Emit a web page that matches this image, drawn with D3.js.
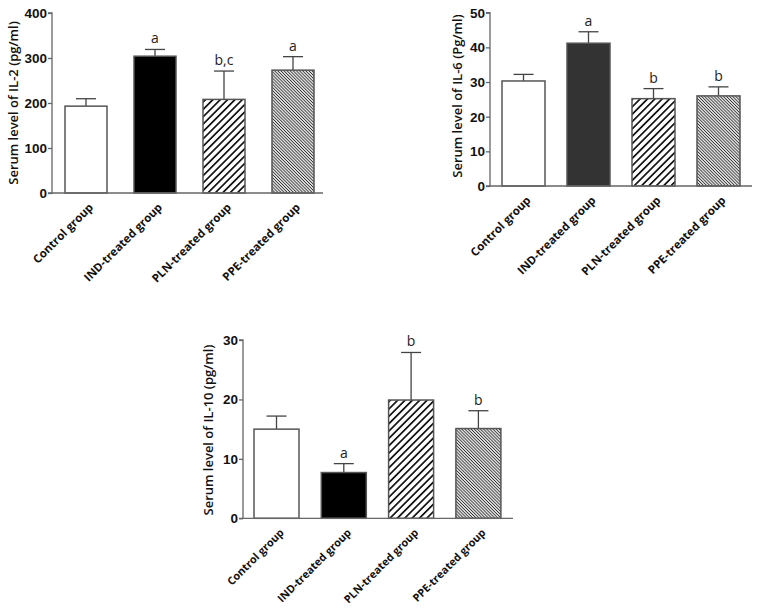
<!DOCTYPE html>
<html>
<head>
<meta charset="utf-8">
<script src="https://cdn.jsdelivr.net/npm/d3@7/dist/d3.min.js"></script>
<style>
  html, body { margin: 0; padding: 0; background: #fff; }
  svg { display: block; }
</style>
</head>
<body>
<svg id="chart" width="758" height="608"></svg>
<script>
// ---------- data ----------
const categories = ["Control group", "IND-treated group", "PLN-treated group", "PPE-treated group"];

const il2Values = [193, 304, 208, 273];
const il2Errors = [16.5, 15, 63, 30];
const il2Letters = ["", "a", "b,c", "a"];
const il2Ticks = [0, 100, 200, 300, 400];

const il6Values = [30.3, 41.2, 25.2, 26.0];
const il6Errors = [1.9, 3.3, 2.9, 2.6];
const il6Letters = ["", "a", "b", "b"];
const il6Ticks = [0, 10, 20, 30, 40, 50];

const il10Values = [15.0, 7.7, 19.9, 15.1];
const il10Errors = [2.2, 1.5, 8.0, 3.0];
const il10Letters = ["", "a", "b", "b"];
const il10Ticks = [0, 10, 20, 30];

// ---------- layout ----------
const svg = d3.select("#chart");
const defs = svg.append("defs");

function stripePattern(id, spacing, angle, width, color) {
  const p = defs.append("pattern")
    .attr("id", id)
    .attr("patternUnits", "userSpaceOnUse")
    .attr("width", spacing).attr("height", spacing)
    .attr("patternTransform", `rotate(${angle})`);
  p.append("rect").attr("width", spacing).attr("height", spacing).attr("fill", "#fff");
  p.append("line").attr("x1", spacing / 2).attr("y1", 0).attr("x2", spacing / 2).attr("y2", spacing)
    .attr("stroke", color).attr("stroke-width", width);
}
stripePattern("plnStripe", 5.2, 45, 1.7, "#111");
stripePattern("ppeStripe", 2.2, -45, 1.0, "#333");

const panels = [
  { title: "Serum level of IL-2 (pg/ml)", values: il2Values, errors: il2Errors, letters: il2Letters,
    ticks: il2Ticks, domain: [0, 400], yRange: [193, 13], axisX: 52, axisEnd: 323,
    bandStart: 65, step: 69, bw: 42, titleX: 13, titleY: 103, indFill: "#000", labelSize: 11.5 },
  { title: "Serum level of IL-6 (Pg/ml)", values: il6Values, errors: il6Errors, letters: il6Letters,
    ticks: il6Ticks, domain: [0, 50], yRange: [186, 12.7], axisX: 490, axisEnd: 752,
    bandStart: 502, step: 65, bw: 43, titleX: 457, titleY: 96, indFill: "#333", labelSize: 11.5 },
  { title: "Serum level of IL-10 (pg/ml)", values: il10Values, errors: il10Errors, letters: il10Letters,
    ticks: il10Ticks, domain: [0, 30], yRange: [518.3, 340], axisX: 243, axisEnd: 513,
    bandStart: 254, step: 67.3, bw: 45, titleX: 208, titleY: 430, indFill: "#000", labelSize: 10.8 }
];

const fills = (p) => ["#fff", p.indFill, "url(#plnStripe)", "url(#ppeStripe)"];
const sans = "'Open Sans', Lato, sans-serif";

panels.forEach(p => {
  const g = svg.append("g");
  const pi = 1 - p.bw / p.step;
  const r0 = p.bandStart - (p.step - p.bw) / 2;
  const x = d3.scaleBand().domain(categories)
    .range([r0, r0 + p.step * categories.length])
    .paddingInner(pi).paddingOuter(pi / 2);
  const y = d3.scaleLinear().domain(p.domain).range(p.yRange);
  const f = fills(p);
  const data = categories.map((c, i) => ({ c, v: p.values[i], e: p.errors[i], l: p.letters[i], fill: f[i] }));

  // error bars (upper only)
  const eb = g.selectAll(".err").data(data).enter().append("g");
  eb.append("line")
    .attr("x1", d => x(d.c) + x.bandwidth() / 2).attr("x2", d => x(d.c) + x.bandwidth() / 2)
    .attr("y1", d => y(d.v)).attr("y2", d => y(d.v + d.e))
    .attr("stroke", "#444").attr("stroke-width", 1.3);
  eb.append("line")
    .attr("x1", d => x(d.c) + x.bandwidth() / 2 - 10).attr("x2", d => x(d.c) + x.bandwidth() / 2 + 10)
    .attr("y1", d => y(d.v + d.e)).attr("y2", d => y(d.v + d.e))
    .attr("stroke", "#444").attr("stroke-width", 1.3);

  // bars
  g.selectAll(".bar").data(data).enter().append("rect")
    .attr("x", d => x(d.c)).attr("width", x.bandwidth())
    .attr("y", d => y(d.v)).attr("height", d => y(0) - y(d.v))
    .attr("fill", d => d.fill)
    .attr("stroke", "#555").attr("stroke-width", 1.5);

  // significance letters
  g.selectAll(".lett").data(data.filter(d => d.l)).enter().append("text")
    .attr("x", d => x(d.c) + x.bandwidth() / 2)
    .attr("y", d => y(d.v + d.e) - 6)
    .attr("text-anchor", "middle")
    .attr("font-family", sans)
    .attr("font-size", 14)
    .attr("fill", "#222")
    .text(d => d.l);

  // y axis
  const ya = g.append("g").attr("transform", `translate(${p.axisX},0)`)
    .call(d3.axisLeft(y).tickValues(p.ticks).tickSize(4).tickPadding(1).tickFormat(d3.format("d")));
  ya.select(".domain").attr("stroke", "#666").attr("stroke-width", 1.3).attr("d", `M-4,${y(p.domain[1])}H0V${y(0)}H-4`);
  ya.selectAll(".tick line").attr("stroke", "#666").attr("stroke-width", 1.3);
  ya.selectAll(".tick text")
    .attr("font-family", "'Liberation Sans', Arial, sans-serif")
    .attr("font-weight", "bold").attr("font-size", 13.5).attr("fill", "#111");

  // x axis line
  g.append("line").attr("x1", p.axisX).attr("x2", p.axisEnd)
    .attr("y1", y(0)).attr("y2", y(0))
    .attr("stroke", "#666").attr("stroke-width", 1.3);

  // x labels
  g.selectAll(".xl").data(categories).enter().append("text")
    .attr("transform", c => `translate(${x(c) + x.bandwidth() / 2 + 8},${y(0) + 15}) rotate(-45)`)
    .attr("text-anchor", "end")
    .attr("font-family", sans)
    .attr("font-weight", "bold").attr("font-size", p.labelSize).attr("fill", "#111")
    .text(c => c);

  // y title
  g.append("text")
    .attr("transform", `translate(${p.titleX},${p.titleY}) rotate(-90)`)
    .attr("text-anchor", "middle").attr("dy", "0.35em")
    .attr("font-family", sans)
    .attr("font-weight", 600).attr("font-size", 13).attr("fill", "#111")
    .text(p.title);
});
</script>
</body>
</html>
